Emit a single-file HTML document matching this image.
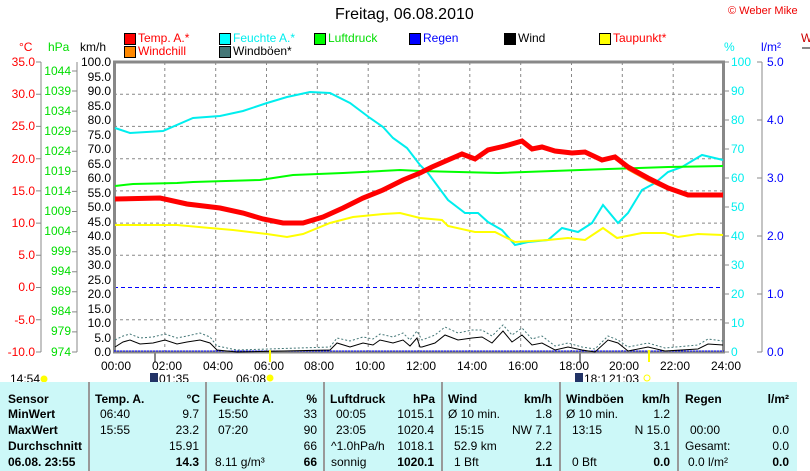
<!DOCTYPE html>
<html><head><meta charset="utf-8"><style>
body{margin:0;width:810px;height:471px;background:#fff;position:relative;overflow:hidden;font-family:"Liberation Sans",sans-serif;font-size:12px}
.a{position:absolute;white-space:nowrap;line-height:14px}
.r{text-align:right}
.b{font-weight:bold}
.sq{position:absolute;width:10px;height:10px;border:1px solid #000}
#tb{position:absolute;left:0;top:382px;width:797px;height:89px;background:#ccf8f8}
.sep{position:absolute;top:382px;width:2px;height:89px;background:#999}
</style></head><body>
<div class="a" style="left:335px;top:6px;font-size:16px;line-height:18px">Freitag, 06.08.2010</div>
<div class="a" style="left:728px;top:4px;color:#e00;font-size:11px">© Weber Mike</div>
<div class="a" style="left:801px;top:31px;color:#c00">W</div>
<div style="position:absolute;left:802px;top:47px;width:8px;height:2px;background:#888"></div>

<div class="sq" style="left:124px;top:33px;background:#f00"></div><div class="a" style="left:138px;top:31px;color:#f00">Temp. A.*</div>
<div class="sq" style="left:219px;top:33px;background:#0ff"></div><div class="a" style="left:233px;top:31px;color:#0ee">Feuchte A.*</div>
<div class="sq" style="left:314px;top:33px;background:#0f0"></div><div class="a" style="left:328px;top:31px;color:#0d0">Luftdruck</div>
<div class="sq" style="left:409px;top:33px;background:#00f"></div><div class="a" style="left:423px;top:31px;color:#00f">Regen</div>
<div class="sq" style="left:504px;top:33px;background:#000"></div><div class="a" style="left:518px;top:31px;color:#000">Wind</div>
<div class="sq" style="left:599px;top:33px;background:#ff0"></div><div class="a" style="left:613px;top:31px;color:#f00">Taupunkt*</div>
<div class="sq" style="left:124px;top:46px;background:#f80"></div><div class="a" style="left:138px;top:44px;color:#f00">Windchill</div>
<div class="sq" style="left:219px;top:46px;background:#477"></div><div class="a" style="left:233px;top:44px;color:#000">Windböen*</div>

<div class="a" style="left:19px;top:40px;color:#f00">°C</div>
<div class="a" style="left:48px;top:40px;color:#0d0">hPa</div>
<div class="a" style="left:80px;top:40px">km/h</div>
<div class="a" style="left:724px;top:40px;color:#0ee">%</div>
<div class="a" style="left:761px;top:40px;color:#00f">l/m²</div>

<svg width="810" height="471" style="position:absolute;left:0;top:0" xmlns="http://www.w3.org/2000/svg">
<g stroke="#888" stroke-width="1" stroke-dasharray="3,3">
<line x1="164.8" y1="62" x2="164.8" y2="352"/><line x1="215.7" y1="62" x2="215.7" y2="352"/><line x1="266.5" y1="62" x2="266.5" y2="352"/><line x1="317.3" y1="62" x2="317.3" y2="352"/><line x1="368.2" y1="62" x2="368.2" y2="352"/><line x1="419" y1="62" x2="419" y2="352"/><line x1="469.8" y1="62" x2="469.8" y2="352"/><line x1="520.7" y1="62" x2="520.7" y2="352"/><line x1="571.5" y1="62" x2="571.5" y2="352"/><line x1="622.3" y1="62" x2="622.3" y2="352"/><line x1="673.2" y1="62" x2="673.2" y2="352"/>
<line x1="114" y1="94.2" x2="724" y2="94.2"/><line x1="114" y1="126.4" x2="724" y2="126.4"/><line x1="114" y1="158.7" x2="724" y2="158.7"/><line x1="114" y1="190.9" x2="724" y2="190.9"/><line x1="114" y1="223.1" x2="724" y2="223.1"/><line x1="114" y1="255.3" x2="724" y2="255.3"/><line x1="114" y1="319.8" x2="724" y2="319.8"/>
</g>
<line x1="114" y1="287.5" x2="724" y2="287.5" stroke="#00f" stroke-dasharray="4,3"/>
<g stroke="#888" fill="none">
<rect x="114.5" y="62" width="609" height="290" stroke-width="3"/>
<line x1="41" y1="62" x2="41" y2="352"/><line x1="77" y1="62" x2="77" y2="352"/><line x1="762" y1="62" x2="762" y2="352"/>
</g>
<g stroke="#888">
<path d="M36 62h5M36 94.2h5M36 126.4h5M36 158.7h5M36 190.9h5M36 223.1h5M36 255.3h5M36 287.5h5M36 319.8h5M36 352h5"/>
<path d="M72 71h5M72 91h5M72 111.1h5M72 131.2h5M72 151.3h5M72 171.4h5M72 191.4h5M72 211.5h5M72 231.6h5M72 251.7h5M72 271.7h5M72 291.8h5M72 311.9h5M72 331.9h5M72 352h5"/>
<path d="M724 62h5M724 91h5M724 120h5M724 149h5M724 178h5M724 207h5M724 236h5M724 265h5M724 294h5M724 323h5M724 352h5"/>
<path d="M757 62h5M757 120h5M757 178h5M757 236h5M757 294h5M757 352h5"/>
</g>
<line x1="114" y1="351" x2="724" y2="351" stroke="#00f" stroke-dasharray="2,1"/>
<polyline fill="none" stroke="#0ee" stroke-width="2" points="115,128 130,133 163,131 193,118 220,116 243,111 267,103 287,97 310,92 330,93 350,103 370,118 383,127 393,138 407,148 420,165 428,173 448,200 465,213 478,213 488,222 502,230 515,245 528,242 548,240 562,228 578,232 592,223 603,205 618,223 628,213 642,190 655,183 668,172 682,167 702,155 723,160"/>
<polyline fill="none" stroke="#0f0" stroke-width="2" points="115,186 133,184 177,183 193,182 260,180 293,175 343,173 400,170 420,171 498,173 608,169 668,167 723,166"/>
<polyline fill="none" stroke="#ff0" stroke-width="2" points="115,225 177,225 210,228 233,230 267,234 287,237 303,234 330,223 353,217 383,214 400,213 420,218 442,220 448,226 475,232 495,232 515,242 548,240 568,238 585,240 603,228 617,238 642,233 665,233 678,237 698,234 723,235"/>
<polyline fill="none" stroke="#f80" stroke-width="1" points="115,200 160,199 187,206 220,209 243,214 263,220 283,224 303,224 323,217 343,207 363,197 383,189 403,179 420,172 432,166 448,158 462,153 475,160 488,149 505,144 522,140 532,151 542,148 555,153 572,154 585,153 602,162 615,157 628,170 648,181 668,190 688,196 723,196"/>
<polyline fill="none" stroke="#f00" stroke-width="5" points="115,199 160,198 187,204 220,208 243,213 263,219 283,223 303,223 323,217 343,208 363,198 383,190 403,180 420,173 432,167 448,160 462,154 475,159 488,150 505,146 522,141 532,149 542,147 555,151 572,153 585,152 602,160 615,157 628,167 648,178 668,188 688,195 723,195"/>
<polyline fill="none" stroke="#477" stroke-width="1" stroke-dasharray="2,2" points="115,340 123,336 130,334 140,338 153,337 165,334 177,338 187,336 200,333 210,337 217,346 237,350 330,347 337,338 350,341 363,337 373,339 380,334 393,337 403,333 410,340 417,331 422,340 435,335 445,327 458,333 472,330 482,330 492,336 503,325 512,335 522,328 532,339 542,336 555,346 568,343 582,347 595,349 608,336 618,340 628,347 648,343 665,348 698,345 708,339 723,341"/>
<polyline fill="none" stroke="#000" stroke-width="1" points="115,347 123,342 130,340 140,344 153,343 165,340 177,344 187,342 200,340 210,343 217,350 237,352 330,350 337,343 350,347 363,343 373,345 380,340 393,343 403,340 410,346 417,338 420,347 422,347 435,343 445,335 458,340 472,338 482,337 492,343 503,331 512,342 522,335 532,345 542,343 555,350 568,347 582,350 595,352 608,340 618,343 628,351 648,347 665,351 698,349 708,344 723,345"/>
<line x1="155" y1="352" x2="155" y2="362" stroke="#888" stroke-width="2"/>
<line x1="580" y1="352" x2="580" y2="362" stroke="#888" stroke-width="2"/>
<line x1="270" y1="350" x2="270" y2="362" stroke="#ff0" stroke-width="2"/>
<line x1="649" y1="350" x2="649" y2="362" stroke="#ff0" stroke-width="2"/>
<circle cx="44" cy="379" r="3.5" fill="#ff0"/>
<rect x="150" y="373" width="8" height="9" fill="#236"/>
<rect x="575" y="373" width="8" height="9" fill="#236"/>
<circle cx="270" cy="378" r="3.5" fill="#ff0"/>
<circle cx="647" cy="378" r="3" fill="none" stroke="#ff0"/>
</svg>

<div class="a r" style="left:0;width:35px;top:55px;color:#f00">35.0</div>
<div class="a r" style="left:0;width:35px;top:87px;color:#f00">30.0</div>
<div class="a r" style="left:0;width:35px;top:119px;color:#f00">25.0</div>
<div class="a r" style="left:0;width:35px;top:152px;color:#f00">20.0</div>
<div class="a r" style="left:0;width:35px;top:184px;color:#f00">15.0</div>
<div class="a r" style="left:0;width:35px;top:216px;color:#f00">10.0</div>
<div class="a r" style="left:0;width:35px;top:248px;color:#f00">5.0</div>
<div class="a r" style="left:0;width:35px;top:280px;color:#f00">0.0</div>
<div class="a r" style="left:0;width:35px;top:313px;color:#f00">-5.0</div>
<div class="a r" style="left:0;width:35px;top:345px;color:#f00">-10.0</div>

<div class="a r" style="left:40px;width:31px;top:64px;color:#0d0">1044</div>
<div class="a r" style="left:40px;width:31px;top:84px;color:#0d0">1039</div>
<div class="a r" style="left:40px;width:31px;top:104px;color:#0d0">1034</div>
<div class="a r" style="left:40px;width:31px;top:124px;color:#0d0">1029</div>
<div class="a r" style="left:40px;width:31px;top:144px;color:#0d0">1024</div>
<div class="a r" style="left:40px;width:31px;top:164px;color:#0d0">1019</div>
<div class="a r" style="left:40px;width:31px;top:184px;color:#0d0">1014</div>
<div class="a r" style="left:40px;width:31px;top:204px;color:#0d0">1009</div>
<div class="a r" style="left:40px;width:31px;top:224px;color:#0d0">1004</div>
<div class="a r" style="left:40px;width:31px;top:244px;color:#0d0">999</div>
<div class="a r" style="left:40px;width:31px;top:264px;color:#0d0">994</div>
<div class="a r" style="left:40px;width:31px;top:284px;color:#0d0">989</div>
<div class="a r" style="left:40px;width:31px;top:304px;color:#0d0">984</div>
<div class="a r" style="left:40px;width:31px;top:324px;color:#0d0">979</div>
<div class="a r" style="left:40px;width:31px;top:345px;color:#0d0">974</div>

<div style="position:absolute;left:78px;top:55px;width:33px">
<div class="a r" style="left:0;width:33px;top:0">100.0</div><div class="a r" style="left:0;width:33px;top:14.5px">95.0</div><div class="a r" style="left:0;width:33px;top:29px">90.0</div><div class="a r" style="left:0;width:33px;top:43.5px">85.0</div><div class="a r" style="left:0;width:33px;top:58px">80.0</div><div class="a r" style="left:0;width:33px;top:72.5px">75.0</div><div class="a r" style="left:0;width:33px;top:87px">70.0</div><div class="a r" style="left:0;width:33px;top:101.5px">65.0</div><div class="a r" style="left:0;width:33px;top:116px">60.0</div><div class="a r" style="left:0;width:33px;top:130.5px">55.0</div><div class="a r" style="left:0;width:33px;top:145px">50.0</div><div class="a r" style="left:0;width:33px;top:159.5px">45.0</div><div class="a r" style="left:0;width:33px;top:174px">40.0</div><div class="a r" style="left:0;width:33px;top:188.5px">35.0</div><div class="a r" style="left:0;width:33px;top:203px">30.0</div><div class="a r" style="left:0;width:33px;top:217.5px">25.0</div><div class="a r" style="left:0;width:33px;top:232px">20.0</div><div class="a r" style="left:0;width:33px;top:246.5px">15.0</div><div class="a r" style="left:0;width:33px;top:261px">10.0</div><div class="a r" style="left:0;width:33px;top:275.5px">5.0</div><div class="a r" style="left:0;width:33px;top:290px">0.0</div>
</div>

<div style="position:absolute;left:731px;top:55px;color:#0ee">
<div class="a" style="top:0">100</div><div class="a" style="top:29px">90</div><div class="a" style="top:58px">80</div><div class="a" style="top:87px">70</div><div class="a" style="top:116px">60</div><div class="a" style="top:145px">50</div><div class="a" style="top:174px">40</div><div class="a" style="top:203px">30</div><div class="a" style="top:232px">20</div><div class="a" style="top:261px">10</div><div class="a" style="top:290px">0</div>
</div>
<div style="position:absolute;left:767px;top:55px;color:#00f">
<div class="a" style="top:0">5.0</div><div class="a" style="top:58px">4.0</div><div class="a" style="top:116px">3.0</div><div class="a" style="top:174px">2.0</div><div class="a" style="top:232px">1.0</div><div class="a" style="top:290px">0.0</div>
</div>

<div style="position:absolute;left:0;top:359px">
<div class="a" style="left:101px">00:00</div><div class="a" style="left:152px">02:00</div><div class="a" style="left:203px">04:00</div><div class="a" style="left:254px">06:00</div><div class="a" style="left:304px">08:00</div><div class="a" style="left:355px">10:00</div><div class="a" style="left:406px">12:00</div><div class="a" style="left:457px">14:00</div><div class="a" style="left:508px">16:00</div><div class="a" style="left:559px">18:00</div><div class="a" style="left:609px">20:00</div><div class="a" style="left:660px">22:00</div><div class="a" style="left:711px">24:00</div>
</div>
<div class="a" style="left:10px;top:372px">14:54</div>
<div class="a" style="left:159px;top:372px">01:35</div>
<div class="a" style="left:236px;top:372px">06:08</div>
<div class="a" style="left:584px;top:372px">18:1</div>
<div class="a" style="left:609px;top:372px">21:03</div>

<div id="tb"></div>
<div class="sep" style="left:88px"></div><div class="sep" style="left:205px"></div><div class="sep" style="left:323px"></div><div class="sep" style="left:441px"></div><div class="sep" style="left:559px"></div><div class="sep" style="left:677px"></div>

<div class="a b" style="left:8px;top:392px">Sensor</div>
<div class="a b" style="left:8px;top:407px">MinWert</div>
<div class="a b" style="left:8px;top:423px">MaxWert</div>
<div class="a b" style="left:8px;top:439px">Durchschnitt</div>
<div class="a b" style="left:8px;top:455px">06.08. 23:55</div>

<div class="a b" style="left:95px;top:392px">Temp. A.</div><div class="a b r" style="left:150px;width:50px;top:392px">°C</div>
<div class="a" style="left:100px;top:407px">06:40</div><div class="a r" style="left:150px;width:49px;top:407px">9.7</div>
<div class="a" style="left:100px;top:423px">15:55</div><div class="a r" style="left:150px;width:49px;top:423px">23.2</div>
<div class="a r" style="left:150px;width:49px;top:439px">15.91</div>
<div class="a b r" style="left:150px;width:49px;top:455px">14.3</div>

<div class="a b" style="left:213px;top:392px">Feuchte A.</div><div class="a b r" style="left:270px;width:47px;top:392px">%</div>
<div class="a" style="left:218px;top:407px">15:50</div><div class="a r" style="left:270px;width:47px;top:407px">33</div>
<div class="a" style="left:218px;top:423px">07:20</div><div class="a r" style="left:270px;width:47px;top:423px">90</div>
<div class="a r" style="left:270px;width:47px;top:439px">66</div>
<div class="a" style="left:215px;top:455px">8.11 g/m³</div><div class="a b r" style="left:270px;width:47px;top:455px">66</div>

<div class="a b" style="left:330px;top:392px">Luftdruck</div><div class="a b r" style="left:390px;width:45px;top:392px">hPa</div>
<div class="a" style="left:336px;top:407px">00:05</div><div class="a r" style="left:380px;width:54px;top:407px">1015.1</div>
<div class="a" style="left:336px;top:423px">23:05</div><div class="a r" style="left:380px;width:54px;top:423px">1020.4</div>
<div class="a" style="left:331px;top:439px">^1.0hPa/h</div><div class="a r" style="left:380px;width:54px;top:439px">1018.1</div>
<div class="a" style="left:331px;top:455px">sonnig</div><div class="a b r" style="left:380px;width:54px;top:455px">1020.1</div>

<div class="a b" style="left:448px;top:392px">Wind</div><div class="a b r" style="left:500px;width:52px;top:392px">km/h</div>
<div class="a" style="left:448px;top:407px">Ø 10 min.</div><div class="a r" style="left:500px;width:52px;top:407px">1.8</div>
<div class="a" style="left:454px;top:423px">15:15</div><div class="a r" style="left:500px;width:52px;top:423px">NW 7.1</div>
<div class="a" style="left:454px;top:439px">52.9 km</div><div class="a r" style="left:500px;width:52px;top:439px">2.2</div>
<div class="a" style="left:454px;top:455px">1 Bft</div><div class="a b r" style="left:500px;width:52px;top:455px">1.1</div>

<div class="a b" style="left:566px;top:392px">Windböen</div><div class="a b r" style="left:620px;width:50px;top:392px">km/h</div>
<div class="a" style="left:566px;top:407px">Ø 10 min.</div><div class="a r" style="left:620px;width:50px;top:407px">1.2</div>
<div class="a" style="left:572px;top:423px">13:15</div><div class="a r" style="left:620px;width:50px;top:423px">N 15.0</div>
<div class="a r" style="left:620px;width:50px;top:439px">3.1</div>
<div class="a" style="left:572px;top:455px">0 Bft</div><div class="a b r" style="left:620px;width:50px;top:455px">0.0</div>

<div class="a b" style="left:685px;top:392px">Regen</div><div class="a b r" style="left:740px;width:49px;top:392px">l/m²</div>
<div class="a" style="left:690px;top:423px">00:00</div><div class="a r" style="left:740px;width:49px;top:423px">0.0</div>
<div class="a" style="left:685px;top:439px">Gesamt:</div><div class="a r" style="left:740px;width:49px;top:439px">0.0</div>
<div class="a" style="left:688px;top:455px">0.0 l/m²</div><div class="a b r" style="left:740px;width:49px;top:455px">0.0</div>
</body></html>
